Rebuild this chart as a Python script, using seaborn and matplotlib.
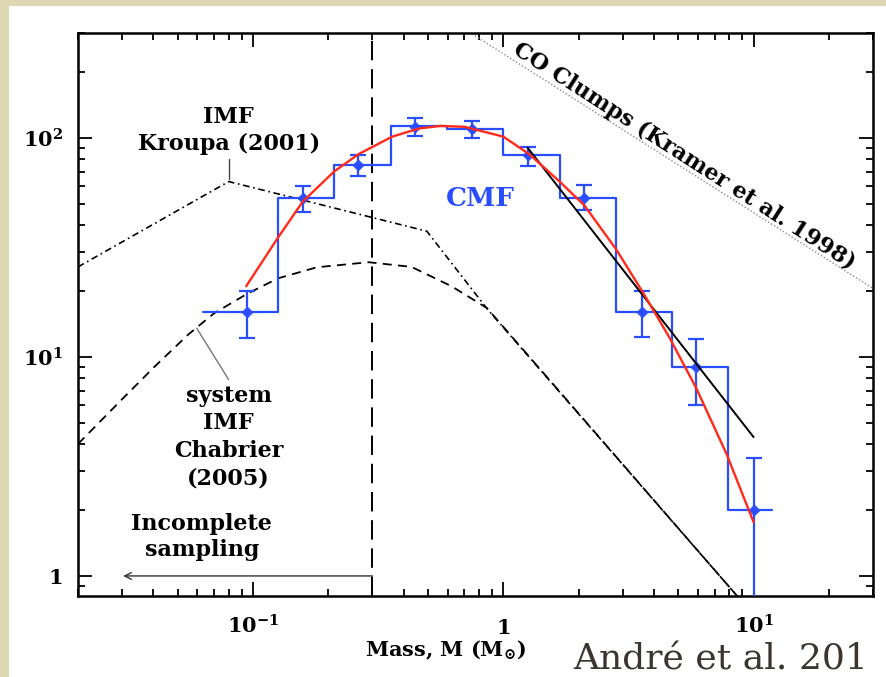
import matplotlib
matplotlib.use("Agg")
import matplotlib.pyplot as plt
from matplotlib.patches import Rectangle
from matplotlib.ticker import LogLocator, NullFormatter
import numpy as np
import seaborn as sns

sns.set_theme(style="ticks")
plt.rcParams["font.family"] = ["DejaVu Serif"]
plt.rcParams["font.weight"] = "bold"
plt.rcParams["axes.labelweight"] = "bold"
plt.rcParams["mathtext.fontset"] = "dejavuserif"
plt.rcParams["mathtext.default"] = "bf"
plt.rcParams["text.color"] = "black"
plt.rcParams["axes.labelcolor"] = "black"
plt.rcParams["xtick.labelcolor"] = "black"
plt.rcParams["ytick.labelcolor"] = "black"

# ---------------- data ----------------
# CMF histogram (bin edges and counts)
bin_edges = [0.063, 0.126, 0.211, 0.355, 0.596, 1.0, 1.69, 2.82, 4.73, 7.94, 11.8]
bin_counts = [16, 53, 75, 113, 109, 83, 53, 16, 9.0, 2.0]

# CMF data points with error bars
pt_mass = [0.095, 0.158, 0.264, 0.443, 0.75, 1.26, 2.11, 3.58, 5.9, 10.0]
pt_n = [16, 53, 75, 112, 109, 83, 53, 16, 9.0, 2.0]
pt_low = [12.2, 45.7, 67, 102, 100, 74, 46.6, 12.3, 6.0, 0.6]
pt_high = [20, 60, 83, 123, 119, 91, 61, 20, 12.1, 3.47]

# lognormal fit (red)
fit_mass = [0.094, 0.126, 0.158, 0.211, 0.264, 0.36, 0.46, 0.56, 0.7, 1.0,
            1.27, 1.68, 2.11, 2.82, 3.6, 4.6, 5.9, 7.8, 10.0]
fit_n = [21, 35, 51, 70, 84, 101, 110, 113, 112, 101,
         84, 63, 49, 31, 19.8, 12.3, 7.2, 3.6, 1.76]

# power-law fit (black)
pl_mass = [1.25, 10.0]
pl_n = [90, 4.3]

# Kroupa (2001) IMF
kroupa_mass = [0.02, 0.08, 0.495, 0.86, 8.6]
kroupa_n = [25.7, 63, 37.4, 16.6, 0.81]

# Chabrier (2005) system IMF
chab_mass = [0.02, 0.03, 0.04, 0.055, 0.07, 0.095, 0.126, 0.18, 0.29, 0.43, 0.62, 0.86, 8.6]
chab_n = [4.0, 6.4, 8.9, 12.6, 15.8, 19.4, 22.8, 25.6, 27.0, 25.7, 21.0, 16.7, 0.81]

# CO clumps (Kramer et al. 1998)
co_mass = [0.75, 30.0]
co_n = [297, 20.5]

blue = "#2a4dff"
red = "#ff2a1a"

fig = plt.figure(figsize=(8.86, 6.77), dpi=100)
fig.patch.set_facecolor("#ddd7b4")
fig.add_artist(Rectangle((9 / 886, 0), 877 / 886, 671 / 677,
                         transform=fig.transFigure, facecolor="white",
                         edgecolor="none", zorder=-5))

ax = fig.add_axes([78 / 886, 1 - 596 / 677, 795 / 886, 563 / 677])
ax.set_xscale("log")
ax.set_yscale("log")
ax.set_xlim(0.02, 30)
ax.set_ylim(0.81, 300)

# model IMFs
sns.lineplot(x=kroupa_mass, y=kroupa_n, ax=ax, color="black", lw=1.2,
             linestyle=(0, (4, 2.2, 1, 2.2)), estimator=None, sort=False)
sns.lineplot(x=chab_mass, y=chab_n, ax=ax, color="black", lw=1.3,
             linestyle=(0, (5, 3.5)), estimator=None, sort=False)
sns.lineplot(x=co_mass, y=co_n, ax=ax, color="#8a8a8a", lw=1.0,
             linestyle=(0, (1, 1.5)), estimator=None, sort=False)

# completeness limit
ax.axvline(0.3, color="black", lw=1.4, linestyle=(0, (10, 4.5)))

# histogram
step_y = bin_counts + [bin_counts[-1]]
sns.lineplot(x=bin_edges, y=step_y, ax=ax, color=blue, lw=1.6,
             drawstyle="steps-post", estimator=None, sort=False)

# error bars and points
pt_n_arr = np.array(pt_n)
yerr = [pt_n_arr - np.array(pt_low), np.array(pt_high) - pt_n_arr]
ax.errorbar(pt_mass, pt_n, yerr=yerr, fmt="none", ecolor=blue,
            elinewidth=1.6, capsize=6, capthick=1.6, zorder=4)
sns.scatterplot(x=pt_mass, y=pt_n, ax=ax, marker="D", s=32, color=blue,
                edgecolor=blue, zorder=5)

# fits
sns.lineplot(x=fit_mass, y=fit_n, ax=ax, color=red, lw=1.7,
             estimator=None, sort=False, zorder=6)
sns.lineplot(x=pl_mass, y=pl_n, ax=ax, color="black", lw=1.4,
             estimator=None, sort=False, zorder=5)

# annotations
ax.text(0.080, 108, "IMF\nKroupa (2001)", ha="center", va="center",
        fontsize=16, linespacing=1.3)
ax.plot([0.080, 0.080], [80, 65], color="#444444", lw=1.0)

ax.text(0.080, 4.3, "system\nIMF\nChabrier\n(2005)", ha="center", va="center",
        fontsize=16, linespacing=1.32)
ax.plot([0.0596, 0.080], [13.5, 7.86], color="#777777", lw=1.0)

ax.text(0.0625, 1.5, "Incomplete\nsampling", ha="center", va="center",
        fontsize=16, linespacing=1.25)
ax.annotate("", xy=(0.0303, 1.0), xytext=(0.3, 1.0),
            arrowprops=dict(arrowstyle="->", color="#333333", lw=1.0,
                            shrinkA=0, shrinkB=0))

ax.text(0.81, 53, "CMF", color=blue, ha="center", va="center", fontsize=19)
ax.text(5.3, 82, "CO Clumps (Kramer et al. 1998)", ha="center", va="center",
        rotation=-32.7, rotation_mode="anchor", fontsize=16)

# axes styling
for sp in ax.spines.values():
    sp.set_linewidth(1.8)
    sp.set_color("black")
ax.xaxis.set_minor_locator(LogLocator(base=10, subs=np.arange(2, 10)))
ax.yaxis.set_minor_locator(LogLocator(base=10, subs=np.arange(2, 10)))
ax.xaxis.set_minor_formatter(NullFormatter())
ax.yaxis.set_minor_formatter(NullFormatter())
ax.set_xticks([0.1, 1, 10])
ax.set_xticklabels([r"$10^{-1}$", "1", r"$10^{1}$"])
ax.set_yticks([1, 10, 100])
ax.set_yticklabels(["1", r"$10^{1}$", r"$10^{2}$"])
ax.tick_params(which="both", direction="in", top=True, right=True,
               width=1.3, colors="black", labelsize=15)
ax.tick_params(which="major", length=10)
ax.tick_params(which="minor", length=5)
ax.tick_params(axis="y", pad=11)
ax.tick_params(axis="x", pad=27)
for lab in ax.get_xticklabels():
    lab.set_va("baseline")

ax.set_xlabel(r"Mass, M (M$_{\odot}$)", fontsize=15, va="center")
ax.xaxis.set_label_coords(0.462, -0.096)
ax.set_ylabel("")

fig.text(573 / 886, 1 / 677, "André et al. 201", fontsize=26,
         family="DejaVu Serif", weight="normal", color="#3a3530",
         ha="left", va="bottom")

fig.savefig("out.png", dpi=100)
